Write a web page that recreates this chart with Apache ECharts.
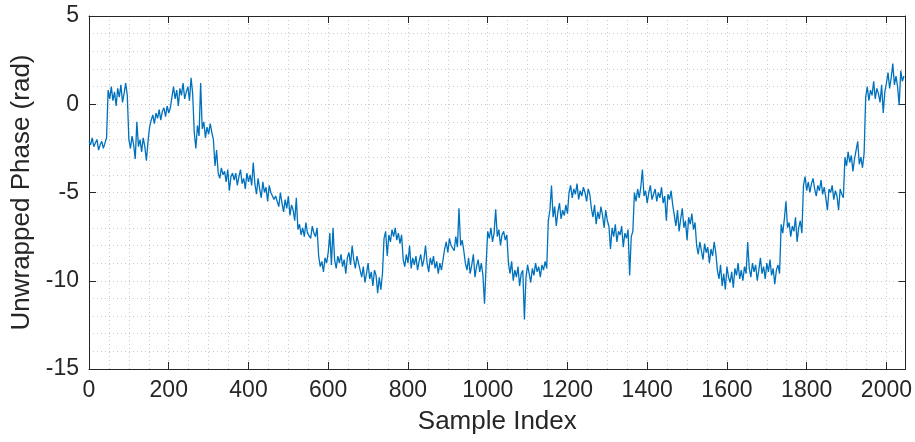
<!DOCTYPE html>
<html>
<head>
<meta charset="utf-8">
<script src="https://cdn.jsdelivr.net/npm/echarts@6/dist/echarts.min.js"></script>
<style>
html,body{margin:0;padding:0;background:#fff;}
#chart{width:915px;height:442px;}
</style>
</head>
<body>
<div id="chart"></div>
<script>
// Sample spacing of the estimated values (one value read every STEP samples)
const STEP = 4;
const xTicks = [0, 200, 400, 600, 800, 1000, 1200, 1400, 1600, 1800, 2000];
const yTicks = [-15, -10, -5, 0, 5];

// Unwrapped phase values (rad), samples 0..2044 step 4
const part1 = [ // samples 0-207
  -2.1, -2.3, -1.9, -2.4, -2.2, -2.0, -2.6, -2.3, -2.1, -2.5, -2.2, -1.9,
  0.8, 0.3, 1.0, 0.2, 0.7, -0.1, 0.9, 0.4, 1.1, 0.1, 0.6, 1.2, 0.5,
  -2.0, -2.5, -1.8, -2.3, -3.1, -1.0, -2.4, -2.0, -2.7, -1.9, -2.4, -3.2, -2.1, -1.3,
  -0.9, -0.6, -1.1, -0.5, -0.8, -0.3, -0.9, -0.4, -0.2, -0.7, -0.1, -0.5, -0.2
];
const part2 = [ // samples 208-415
  0.4, 1.0, 0.3, 0.8, -0.1, 0.9, 0.5, 1.2, 0.3, 0.7, 1.0, 0.2, 1.5, 0.6,
  -1.6, -2.5, -1.2, -1.8, 1.2, -1.4, -1.0, -1.9, -1.3, -1.7, -1.1, -1.6, -2.0,
  -3.5, -2.6, -3.9, -4.2, -3.6, -4.0, -3.8, -4.4, -3.7, -4.9, -4.1, -3.9,
  -4.3, -3.9, -4.6, -4.1, -3.7, -4.5, -4.2, -4.8, -3.9, -4.4, -4.0, -4.6, -3.3
];
const part3 = [ // samples 416-739
  -4.5, -5.1, -4.2, -4.8, -5.3, -4.4, -5.0, -4.7, -5.5, -4.6, -5.0, -4.9, -5.4, -5.2,
  -5.3, -5.8, -5.0, -5.6, -6.1, -5.4, -5.9, -5.2, -6.3, -5.7, -6.0, -6.6, -5.3,
  -7.1, -6.8, -7.4, -7.0, -7.5, -6.7, -7.3, -7.2, -7.6, -6.9, -7.3, -7.5, -7.0,
  -8.6, -9.2, -8.9, -9.5, -8.7, -9.0, -8.4, -7.3, -9.1, -7.0, -8.8, -9.3, -8.6,
  -9.0, -8.5, -9.2, -8.8, -9.6, -8.7, -8.4, -9.1, -8.0, -8.8, -9.3, -8.6, -9.0,
  -9.4, -9.8, -9.2, -10.1, -9.6, -9.0, -9.9, -9.5, -10.3, -9.4, -9.7, -10.7, -9.8, -10.5, -9.6
];
const part4 = [ // samples 740-943
  -7.6, -7.2, -8.6, -7.4, -7.8, -7.1, -7.5, -7.0, -7.7, -7.3, -7.9, -7.4,
  -8.8, -9.2, -8.5, -9.0, -8.0, -9.3, -8.7, -9.1, -8.6, -9.4, -8.9, -8.5, -9.2,
  -8.8, -8.0, -9.0, -9.5, -8.7, -9.1, -8.6, -9.3, -8.9, -9.6, -9.0, -9.4, -8.8,
  -8.2, -7.8, -8.4, -7.6, -8.0, -7.9, -8.3, -7.5, -8.1, -5.9, -8.0, -7.7, -8.3
];
const part5 = [ // samples 944-1151
  -9.0, -9.4, -8.7, -9.6, -9.1, -8.5, -9.8, -9.2, -8.8, -9.5, -9.0, -9.7, -11.3, -9.1,
  -7.2, -7.6, -7.0, -7.8, -7.3, -5.95, -7.5, -7.1, -8.0, -7.4, -7.2, -7.7, -7.4,
  -9.0, -9.6, -8.9, -10.0, -9.4, -9.8, -9.2, -10.3, -9.6, -9.4, -12.2, -9.8, -9.1,
  -9.6, -10.1, -9.3, -9.7, -9.0, -9.5, -9.2, -9.8, -9.1, -9.4, -8.9, -9.3
];
const part6 = [ // samples 1152-1367
  -6.6, -6.0, -4.6, -6.4, -5.8, -6.9, -6.1, -5.6, -6.5, -6.0, -6.3, -5.7, -6.2,
  -5.0, -4.6, -5.3, -4.8, -5.1, -4.5, -5.4, -4.9, -5.2, -4.7, -5.0, -5.5, -4.8, -5.1,
  -5.9, -6.4, -5.7, -6.8, -6.1, -6.5, -5.8, -6.3, -7.0, -6.0, -6.6, -6.9, -8.2,
  -7.0, -7.5, -6.8, -7.8, -7.2, -7.4, -6.9, -8.1, -7.3, -7.6, -7.1, -9.7, -7.5, -7.2
];
const part7 = [ // samples 1368-1575
  -5.0, -5.5, -4.8, -5.3, -4.7, -3.7, -5.2, -4.9, -5.6, -5.0, -4.6, -5.4, -5.1,
  -4.8, -5.5, -5.0, -5.3, -4.7, -5.6, -5.2, -6.6, -5.1, -5.4, -4.9, -5.7,
  -6.3, -6.9, -6.0, -7.2, -6.5, -5.9, -7.0, -6.6, -7.7, -6.4, -6.8, -6.2, -7.1, -6.7,
  -8.0, -8.5, -7.8, -8.3, -8.8, -7.9, -8.4, -8.1, -9.0, -8.2, -8.6, -7.8, -8.4
];
const part8 = [ // samples 1576-1791
  -9.4, -9.9, -9.1, -10.3, -9.6, -10.5, -9.2, -9.8, -10.1, -9.5, -10.4, -9.3, -9.7, -9.0,
  -9.9, -9.4, -10.0, -9.2, -9.6, -7.8, -9.3, -9.8, -9.0, -9.5, -9.1, -10.0, -9.4,
  -8.7, -9.6, -9.2, -9.9, -9.0, -9.5, -8.8, -9.7, -9.3, -10.2, -9.4, -9.1, -9.6,
  -6.8, -7.3, -6.5, -5.5, -7.0, -6.7, -7.5, -6.9, -7.2, -6.4, -7.8, -7.0, -6.6, -7.3
];
const part9 = [ // samples 1792-2044
  -4.6, -4.1, -4.9, -4.4, -5.0, -4.5, -4.2, -4.8, -5.2, -4.6, -4.9, -4.3, -5.1,
  -4.7, -5.3, -6.0, -4.8, -5.0, -4.6, -5.4, -4.9, -5.2, -6.0, -4.8, -5.1, -5.3,
  -3.0, -3.5, -2.7, -3.3, -2.9, -3.8, -3.1, -2.6, -2.1, -3.4, -3.0, -3.6, -2.8,
  0.4, 1.0, 0.2, 0.8, 0.5, 1.3, 0.3, 0.9, 0.6, 0.1, 1.1, -0.5, 0.7,
  1.2, 1.8, 0.9, 1.5, 2.3, 1.1, 1.6, 1.0, -0.05, 1.9, 1.3, 1.6
];

const phase = [].concat(part1, part2, part3, part4, part5, part6, part7, part8, part9);
const seriesData = phase.map((v, k) => [k * STEP, v]);

const AX = '#262626';
const GRIDC = '#b4b4b4';
const FONT = "'Liberation Sans', Arial, Helvetica, sans-serif";
const plain = v => String(v);
const gridLine = {show: true, lineStyle: {color: GRIDC, type: [1, 3], width: 1, opacity: 0.7}};
const hidden = {show: false};

const chart = echarts.init(document.getElementById('chart'), null, {renderer: 'canvas'});
chart.setOption({
  animation: false,
  backgroundColor: '#ffffff',
  grid: {left: 89, right: 9, top: 16, bottom: 73, containLabel: false},
  xAxis: [{
    type: 'value', position: 'bottom', min: 0, max: 2048, interval: 200,
    name: 'Sample Index', nameLocation: 'middle', nameGap: 40,
    nameTextStyle: {fontSize: 26, color: AX, fontFamily: FONT},
    axisLine: {show: true, onZero: false, lineStyle: {color: AX, width: 1}},
    axisTick: {show: true, inside: true, length: 7, customValues: xTicks, lineStyle: {color: AX}},
    axisLabel: {show: true, customValues: xTicks, formatter: plain, fontSize: 23, color: AX, fontFamily: FONT, margin: 10},
    splitLine: hidden
  }, {
    type: 'value', position: 'top', min: 0, max: 2048, interval: 200,
    axisLine: {show: true, onZero: false, lineStyle: {color: AX, width: 1}},
    axisTick: {show: true, inside: true, length: 7, customValues: xTicks, lineStyle: {color: AX}},
    axisLabel: hidden,
    splitLine: hidden
  }, {
    // grid-only axis: dotted lines every 50 samples
    type: 'value', position: 'bottom', min: 0, max: 2048, interval: 50,
    axisLine: hidden, axisTick: hidden, axisLabel: hidden,
    splitLine: gridLine
  }],
  yAxis: [{
    type: 'value', position: 'left', min: -15, max: 5, interval: 5,
    name: 'Unwrapped Phase (rad)', nameLocation: 'middle', nameGap: 52, nameRotate: 90,
    nameTextStyle: {fontSize: 26, color: AX, fontFamily: FONT},
    axisLine: {show: true, onZero: false, lineStyle: {color: AX, width: 1}},
    axisTick: {show: true, inside: true, length: 7, customValues: yTicks, lineStyle: {color: AX}},
    axisLabel: {show: true, customValues: yTicks, formatter: plain, fontSize: 23, color: AX, fontFamily: FONT, margin: 10},
    splitLine: hidden
  }, {
    type: 'value', position: 'right', min: -15, max: 5, interval: 5,
    axisLine: {show: true, onZero: false, lineStyle: {color: AX, width: 1}},
    axisTick: {show: true, inside: true, length: 7, customValues: yTicks, lineStyle: {color: AX}},
    axisLabel: hidden,
    splitLine: hidden
  }, {
    // grid-only axis: dotted lines every 1 rad
    type: 'value', position: 'left', min: -15, max: 5, interval: 1,
    axisLine: hidden, axisTick: hidden, axisLabel: hidden,
    splitLine: gridLine
  }],
  series: [{
    type: 'line',
    xAxisIndex: 0, yAxisIndex: 0,
    data: seriesData,
    showSymbol: false,
    symbol: 'none',
    lineStyle: {color: '#0072BD', width: 1.3},
    itemStyle: {color: '#0072BD'},
    silent: true,
    z: 5
  }]
});
</script>
</body>
</html>
